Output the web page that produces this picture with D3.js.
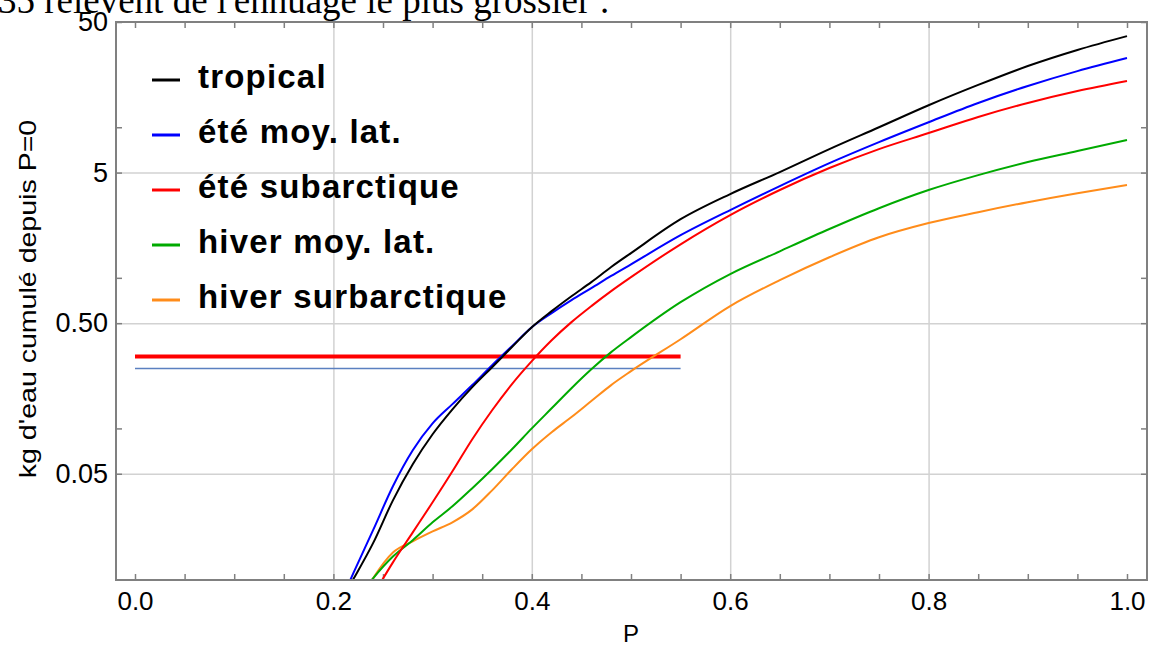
<!DOCTYPE html>
<html>
<head>
<meta charset="utf-8">
<script src="https://cdn.jsdelivr.net/npm/d3@7"></script>
<style>
  body { margin: 0; background: #fff; }
  text { font-family: "Liberation Sans", Arial, sans-serif; }
</style>
</head>
<body>
<script>
// P grid shared by all series
var pValues = [0.20, 0.22, 0.24, 0.26, 0.28, 0.30, 0.32, 0.34, 0.36, 0.38, 0.40, 0.42, 0.44,
  0.46, 0.48, 0.50, 0.55, 0.60, 0.65, 0.70, 0.75, 0.80, 0.85, 0.90, 0.95, 1.00];

// kg d'eau cumule
var tropical = [0.0059, 0.00995, 0.0173, 0.0333, 0.0578, 0.0915, 0.134, 0.188, 0.255, 0.347, 0.47,
  0.601, 0.755, 0.936, 1.18, 1.46, 2.45, 3.60, 5.04, 7.16, 10.0, 14.0, 19.1, 25.5, 32.6, 40.3];
var eteMoyLat = [0.0055, 0.0109, 0.0211, 0.0413, 0.0716, 0.108, 0.145, 0.194, 0.263, 0.352, 0.47,
  0.583, 0.711, 0.854, 1.03, 1.23, 1.92, 2.82, 4.07, 5.78, 7.97, 10.8, 14.5, 18.8, 23.6, 28.8];
var eteSubarctique = [0.0028, 0.0047, 0.0078, 0.0129, 0.0204, 0.0323, 0.0519, 0.0848, 0.132, 0.197, 0.28,
  0.385, 0.508, 0.649, 0.816, 1.01, 1.67, 2.61, 3.83, 5.36, 7.16, 9.15, 11.7, 14.5, 17.4, 20.3];
var hiverMoyLat = [0.0044, 0.0067, 0.0101, 0.0141, 0.0181, 0.0238, 0.0304, 0.0401, 0.0536, 0.0727, 0.100,
  0.136, 0.185, 0.247, 0.321, 0.404, 0.689, 1.06, 1.50, 2.11, 2.90, 3.83, 4.81, 5.87, 6.95, 8.22];
var hiverSurbarctique = [0.0034, 0.0058, 0.0101, 0.0150, 0.0178, 0.0207, 0.0238, 0.0290, 0.0388, 0.0536, 0.0727,
  0.0944, 0.119, 0.152, 0.194, 0.240, 0.391, 0.649, 0.965, 1.37, 1.86, 2.31, 2.73, 3.18, 3.65, 4.13];

var seriesNames = ["tropical", "été moy. lat.", "été subarctique", "hiver moy. lat.", "hiver surbarctique"];
var seriesValues = [tropical, eteMoyLat, eteSubarctique, hiverMoyLat, hiverSurbarctique];
var seriesColors = ["#000000", "#0000ff", "#ff0000", "#00aa00", "#ff8c1a"];

// horizontal reference lines (value, up to P = refEnd)
var refValues = [0.3, 0.25];
var refColors = ["#ff0000", "#5b80c0"];
var refWidths = [4, 1.5];
var refEnd = 0.55;

var xTickLabels = ["0.0", "0.2", "0.4", "0.6", "0.8", "1.0"];
var yTickValues = [0.05, 0.5, 5, 50];
var yTickLabels = ["0.05", "0.50", "5", "50"];
var yMinorTicks = [0.1, 1, 10];

var svgWidth = 1151;
var svgHeight = 646;
var frame = { left: 116, right: 1147, top: 22, bottom: 580 };

var svg = d3.select("body")
  .append("svg")
    .attr("width", svgWidth)
    .attr("height", svgHeight);

// cut-off line of the surrounding document
svg.append("text")
  .attr("x", -2)
  .attr("y", 13)
  .style("font-family", "'Liberation Serif', 'Times New Roman', serif")
  .style("font-size", "37px")
  .text("35 relèvent de l'ennuage le plus grossier :");

var x = d3.scaleLinear()
  .domain([0, 1])
  .range([135, 1127]);

var y = d3.scaleLog()
  .domain([0.01, 50])
  .range([579, frame.top]);

var fh = frame.bottom - frame.top;
var fw = frame.right - frame.left;

// grid
svg.append("g")
  .attr("transform", "translate(0," + frame.bottom + ")")
  .call(d3.axisBottom(x).tickValues([0.2, 0.4, 0.6, 0.8]).tickSize(-fh).tickFormat(""))
  .call(g => g.select(".domain").remove())
  .call(g => g.selectAll("line").attr("stroke", "#d2d2d2").attr("stroke-width", 1.5));

svg.append("g")
  .attr("transform", "translate(" + frame.left + ",0)")
  .call(d3.axisLeft(y).tickValues([0.05, 0.5, 5]).tickSize(-fw).tickFormat(""))
  .call(g => g.select(".domain").remove())
  .call(g => g.selectAll("line").attr("stroke", "#d2d2d2").attr("stroke-width", 1.5));

// inward ticks on all four sides
var xMinor = d3.range(0, 1.0001, 0.05);
function styleTicks(g) {
  g.select(".domain").remove();
  g.selectAll("line").attr("stroke", "#808080").attr("stroke-width", 1.5);
}
svg.append("g")
  .attr("transform", "translate(0," + frame.bottom + ")")
  .call(d3.axisBottom(x).tickValues(xMinor).tickSize(-6).tickFormat(""))
  .call(styleTicks);
svg.append("g")
  .attr("transform", "translate(0," + frame.top + ")")
  .call(d3.axisTop(x).tickValues(xMinor).tickSize(-6).tickFormat(""))
  .call(styleTicks);
svg.append("g")
  .attr("transform", "translate(" + frame.left + ",0)")
  .call(d3.axisLeft(y).tickValues(yMinorTicks.concat(yTickValues)).tickSize(-6).tickFormat(""))
  .call(styleTicks);
svg.append("g")
  .attr("transform", "translate(" + frame.right + ",0)")
  .call(d3.axisRight(y).tickValues(yMinorTicks.concat(yTickValues)).tickSize(-6).tickFormat(""))
  .call(styleTicks);

// tick labels
svg.append("g")
  .attr("transform", "translate(0," + frame.bottom + ")")
  .call(d3.axisBottom(x).tickValues([0, 0.2, 0.4, 0.6, 0.8, 1.0]).tickSize(0).tickPadding(12)
    .tickFormat((d, i) => xTickLabels[i]))
  .call(g => g.select(".domain").remove())
  .call(g => g.selectAll("text").style("font-size", "26px").attr("fill", "#000")
    .style("font-family", "'Liberation Sans', Arial, sans-serif"));

svg.append("g")
  .attr("transform", "translate(" + frame.left + ",0)")
  .call(d3.axisLeft(y).tickValues(yTickValues).tickSize(0).tickPadding(8)
    .tickFormat((d, i) => yTickLabels[i]))
  .call(g => g.select(".domain").remove())
  .call(g => g.selectAll("text").style("font-size", "27px").attr("fill", "#000")
    .style("font-family", "'Liberation Sans', Arial, sans-serif"));

// axis titles
svg.append("text")
  .attr("x", 631)
  .attr("y", 642)
  .attr("text-anchor", "middle")
  .style("font-size", "24px")
  .text("P");

svg.append("text")
  .attr("transform", "translate(36,299) rotate(-90) scale(1.19,1)")
  .attr("text-anchor", "middle")
  .style("font-size", "24px")
  .text("kg d'eau cumulé depuis P=0");

// clip
svg.append("clipPath")
  .attr("id", "plot-clip")
  .append("rect")
    .attr("x", frame.left)
    .attr("y", frame.top)
    .attr("width", fw)
    .attr("height", fh);

var plot = svg.append("g").attr("clip-path", "url(#plot-clip)");

// reference lines
refValues.forEach(function(v, i) {
  plot.append("line")
    .attr("x1", x(0))
    .attr("x2", x(refEnd))
    .attr("y1", y(v))
    .attr("y2", y(v))
    .attr("stroke", refColors[i])
    .attr("stroke-width", refWidths[i]);
});

var line = d3.line()
  .x(d => x(d[0]))
  .y(d => y(d[1]))
  .curve(d3.curveMonotoneX);

// draw back to front so black ends on top
[4, 3, 2, 1, 0].forEach(function(i) {
  plot.append("path")
    .datum(pValues.map((p, j) => [p, seriesValues[i][j]]))
    .attr("fill", "none")
    .attr("stroke", seriesColors[i])
    .attr("stroke-width", 2)
    .attr("d", line);
});

// frame
svg.append("rect")
  .attr("x", frame.left)
  .attr("y", frame.top)
  .attr("width", fw)
  .attr("height", fh)
  .attr("fill", "none")
  .attr("stroke", "#808080")
  .attr("stroke-width", 2);

// legend
var legend = svg.append("g");
seriesNames.forEach(function(name, i) {
  var ly = 80 + i * 55;
  legend.append("line")
    .attr("x1", 152)
    .attr("x2", 180)
    .attr("y1", ly)
    .attr("y2", ly)
    .attr("stroke", seriesColors[i])
    .attr("stroke-width", 3);
  legend.append("text")
    .attr("x", 198)
    .attr("y", ly + 8)
    .style("font-size", "33px")
    .style("font-weight", "bold")
    .style("letter-spacing", "1.2px")
    .text(name);
});
</script>
</body>
</html>
